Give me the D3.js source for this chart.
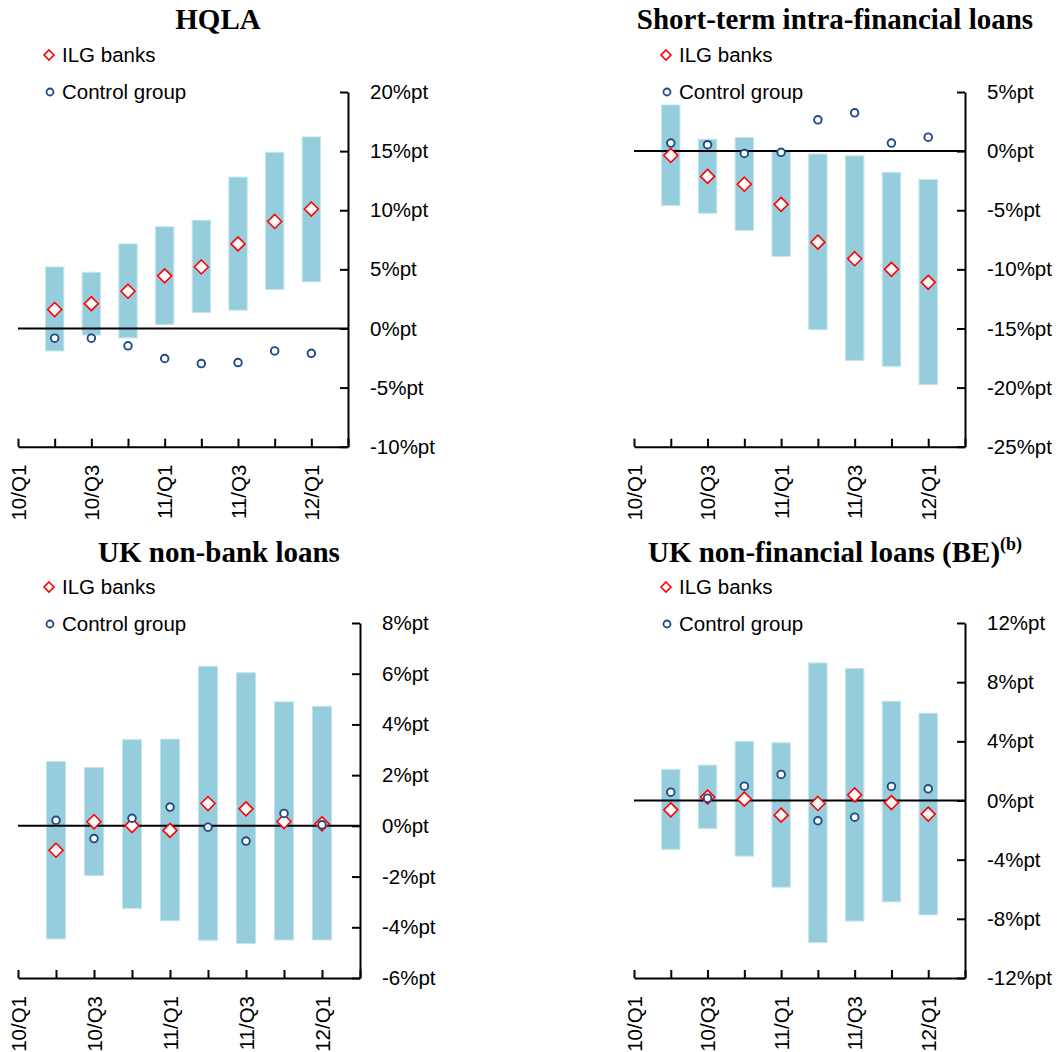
<!DOCTYPE html>
<html>
<head>
<meta charset="utf-8">
<script src="https://cdn.jsdelivr.net/npm/d3@7"></script>
<style>
  html, body { margin: 0; padding: 0; background: #fff; }
  svg { display: block; }
</style>
</head>
<body>
<svg id="chart" width="1058" height="1052"></svg>
<script>
// ---- Data ----
const quarters = ["10/Q1","10/Q2","10/Q3","10/Q4","11/Q1","11/Q2","11/Q3","11/Q4","12/Q1","12/Q2"];
const dataQuarters = ["10/Q2","10/Q3","10/Q4","11/Q1","11/Q2","11/Q3","11/Q4","12/Q1"];
const labelledQuarters = ["10/Q1","10/Q3","11/Q1","11/Q3","12/Q1"];
const seriesNames = ["ILG banks", "Control group"];

// HQLA
const hqlaRangeLow  = [-1.9, -0.56, -0.8, 0.34, 1.36, 1.55, 3.3, 3.95];
const hqlaRangeHigh = [5.2, 4.75, 7.15, 8.6, 9.15, 12.8, 14.9, 16.2];
const hqlaILG       = [1.6, 2.1, 3.15, 4.45, 5.2, 7.15, 9.05, 10.1];
const hqlaControl   = [-0.82, -0.82, -1.47, -2.54, -2.97, -2.88, -1.9, -2.1];
const hqlaTicks     = [-10, -5, 0, 5, 10, 15, 20];

// Short-term intra-financial loans
const stifRangeLow  = [-4.6, -5.25, -6.7, -8.9, -15.1, -17.7, -18.2, -19.75];
const stifRangeHigh = [3.9, 1.0, 1.15, 0.0, -0.25, -0.4, -1.8, -2.4];
const stifILG       = [-0.37, -2.14, -2.8, -4.5, -7.7, -9.1, -10.0, -11.1];
const stifControl   = [0.68, 0.54, -0.2, -0.1, 2.65, 3.24, 0.68, 1.18];
const stifTicks     = [-25, -20, -15, -10, -5, 0, 5];

// UK non-bank loans
const nbRangeLow  = [-4.46, -1.96, -3.26, -3.74, -4.51, -4.64, -4.5, -4.5];
const nbRangeHigh = [2.54, 2.3, 3.4, 3.42, 6.29, 6.04, 4.89, 4.71];
const nbILG       = [-0.96, 0.16, 0.01, -0.18, 0.88, 0.67, 0.17, 0.08];
const nbControl   = [0.22, -0.5, 0.3, 0.74, -0.05, -0.6, 0.49, 0.04];
const nbTicks     = [-6, -4, -2, 0, 2, 4, 6, 8];

// UK non-financial loans (BE)
const nfRangeLow  = [-3.3, -1.9, -3.76, -5.86, -9.6, -8.15, -6.85, -7.73];
const nfRangeHigh = [2.1, 2.39, 4.0, 3.9, 9.3, 8.92, 6.71, 5.9];
const nfILG       = [-0.63, 0.23, 0.09, -0.99, -0.2, 0.38, -0.14, -0.92];
const nfControl   = [0.56, 0.16, 0.97, 1.76, -1.37, -1.13, 0.95, 0.79];
const nfTicks     = [-12, -8, -4, 0, 4, 8, 12];

// ---- Styles ----
const BAR_FILL = "#95cddd";
const BAR_STROKE = "#c3e4ee";
const RED = "#ff0000";
const NAVY = "#1f4a86";
const SANS = "'Liberation Sans', Arial, sans-serif";
const SERIF = "'Liberation Serif', 'Times New Roman', serif";

const svg = d3.select("#chart");

const panels = [
  { title: "HQLA", sup: null, titleX: 218, titleY: 29, legendX: 49, legendY: 55,
    x0: 18, x1: 348, y0: 446.7, y1: 92, ticks: hqlaTicks,
    low: hqlaRangeLow, high: hqlaRangeHigh, ilg: hqlaILG, ctrl: hqlaControl },
  { title: "Short-term intra-financial loans", sup: null, titleX: 835, titleY: 29, legendX: 666, legendY: 55,
    x0: 634, x1: 965, y0: 446.7, y1: 92, ticks: stifTicks,
    low: stifRangeLow, high: stifRangeHigh, ilg: stifILG, ctrl: stifControl },
  { title: "UK non-bank loans", sup: null, titleX: 219, titleY: 562, legendX: 49, legendY: 587,
    x0: 18, x1: 360, y0: 978, y1: 623, ticks: nbTicks,
    low: nbRangeLow, high: nbRangeHigh, ilg: nbILG, ctrl: nbControl },
  { title: "UK non-financial loans (BE)", sup: "(b)", titleX: 835, titleY: 562, legendX: 666, legendY: 587,
    x0: 634, x1: 965, y0: 978, y1: 623, ticks: nfTicks,
    low: nfRangeLow, high: nfRangeHigh, ilg: nfILG, ctrl: nfControl }
];

const diamond = (cx, cy, r) => `M${cx},${cy - r}L${cx + r},${cy}L${cx},${cy + r}L${cx - r},${cy}Z`;

panels.forEach(p => {
  const g = svg.append("g");
  const x = d3.scalePoint().domain(quarters).range([p.x0, p.x1]).padding(0);
  const y = d3.scaleLinear().domain([p.ticks[0], p.ticks[p.ticks.length - 1]]).range([p.y0, p.y1]);
  const step = x.step();
  const barW = step / 2;

  // Title
  const t = g.append("text")
    .attr("x", p.titleX).attr("y", p.titleY)
    .attr("text-anchor", "middle")
    .style("font-family", SERIF).style("font-weight", "bold").style("font-size", "29px")
    .attr("fill", "#000");
  t.append("tspan").text(p.title);
  if (p.sup) {
    t.append("tspan").text(p.sup).attr("dy", -12).style("font-size", "18px");
  }

  // Legend
  const lg = g.append("g");
  lg.append("path").attr("d", diamond(p.legendX, p.legendY, 5))
    .attr("fill", "#fff").attr("stroke", RED).attr("stroke-width", 1.6);
  lg.append("text").attr("x", p.legendX + 13).attr("y", p.legendY).attr("dy", "0.35em")
    .style("font-family", SANS).style("font-size", "20.5px").text(seriesNames[0]);
  lg.append("circle").attr("cx", p.legendX + 1).attr("cy", p.legendY + 37).attr("r", 3.5)
    .attr("fill", "#fff").attr("stroke", NAVY).attr("stroke-width", 1.8);
  lg.append("text").attr("x", p.legendX + 13).attr("y", p.legendY + 37).attr("dy", "0.35em")
    .style("font-family", SANS).style("font-size", "20.5px").text(seriesNames[1]);

  // Bars (ranges)
  g.append("g").selectAll("rect").data(dataQuarters).join("rect")
    .attr("x", (d) => x(d) - barW / 2)
    .attr("width", barW)
    .attr("y", (d, i) => y(p.high[i]))
    .attr("height", (d, i) => y(p.low[i]) - y(p.high[i]))
    .attr("fill", BAR_FILL).attr("stroke", BAR_STROKE).attr("stroke-width", 1);

  // Zero line
  g.append("line").attr("x1", p.x0).attr("x2", p.x1).attr("y1", y(0)).attr("y2", y(0))
    .attr("stroke", "#000").attr("stroke-width", 2);

  // Y axis (right)
  const yAxis = d3.axisRight(y).tickValues(p.ticks)
    .tickSizeInner(-8).tickSizeOuter(0).tickPadding(22)
    .tickFormat(d => d + "%pt");
  const ya = g.append("g").attr("transform", `translate(${p.x1},0)`).call(yAxis);
  ya.selectAll("path, line").attr("stroke", "#000").attr("stroke-width", 2);
  ya.selectAll("text").style("font-family", SANS).style("font-size", "20.5px").attr("fill", "#000");

  // X axis (bottom)
  const xAxis = d3.axisBottom(x).tickSizeInner(-8).tickSizeOuter(0)
    .tickFormat(d => labelledQuarters.includes(d) ? d : "");
  const xa = g.append("g").attr("transform", `translate(0,${p.y0})`).call(xAxis);
  xa.selectAll("path, line").attr("stroke", "#000").attr("stroke-width", 2);
  xa.selectAll("text")
    .attr("transform", "rotate(-90)")
    .attr("x", -18).attr("y", 0).attr("dy", "0.35em")
    .attr("text-anchor", "end")
    .style("font-family", SANS).style("font-size", "20.5px").attr("fill", "#000");

  // ILG diamonds
  g.append("g").selectAll("path").data(dataQuarters).join("path")
    .attr("d", (d, i) => diamond(x(d), y(p.ilg[i]), 7))
    .attr("fill", "#fff").attr("stroke", RED).attr("stroke-width", 1.6);

  // Control circles
  g.append("g").selectAll("circle").data(dataQuarters).join("circle")
    .attr("cx", d => x(d)).attr("cy", (d, i) => y(p.ctrl[i])).attr("r", 3.8)
    .attr("fill", "#fff").attr("stroke", NAVY).attr("stroke-width", 1.9);
});
</script>
</body>
</html>
